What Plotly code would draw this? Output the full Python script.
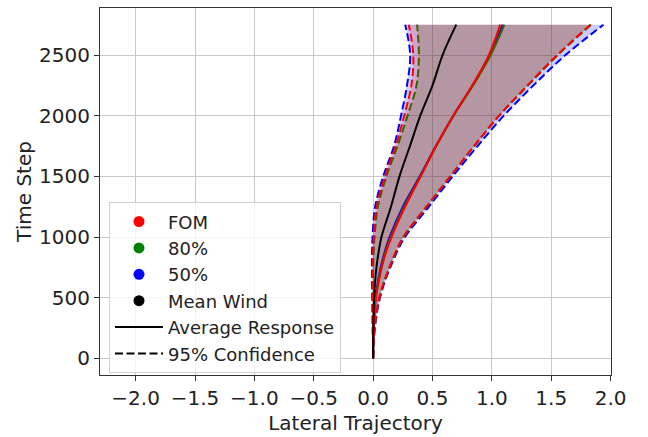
import plotly.graph_objects as go

# Time steps at which the lateral trajectory statistics are tabulated
time_step = [0, 125, 250, 375, 500, 625, 750, 875, 1000, 1250, 1500, 1750, 2000, 2250, 2500, 2750]

# Mean wind (deterministic) response
mean_wind = [0, 0.000, 0.002, 0.004, 0.008, 0.016, 0.028, 0.046, 0.070, 0.150, 0.222, 0.310, 0.397, 0.500, 0.585, 0.700]

# Average responses
fom_mean = [0, 0.001, 0.004, 0.011, 0.024, 0.045, 0.073, 0.108, 0.155, 0.270, 0.400, 0.530, 0.675, 0.835, 0.975, 1.070]
p80_mean = [0, 0.001, 0.004, 0.011, 0.023, 0.043, 0.070, 0.104, 0.150, 0.265, 0.400, 0.532, 0.678, 0.842, 0.990, 1.105]
p50_mean = [0, 0.001, 0.003, 0.009, 0.020, 0.038, 0.063, 0.096, 0.138, 0.250, 0.392, 0.528, 0.674, 0.838, 0.982, 1.090]

# 95% confidence bounds (lower / upper)
fom_lo = [0, -0.001, -0.003, -0.004, -0.004, -0.004, -0.003, 0.000, 0.006, 0.030, 0.100, 0.190, 0.262, 0.322, 0.338, 0.300]
p80_lo = [0, -0.001, -0.002, -0.003, -0.003, -0.002, 0.000, 0.004, 0.012, 0.040, 0.112, 0.205, 0.290, 0.365, 0.385, 0.370]
p50_lo = [0, -0.001, -0.003, -0.005, -0.007, -0.009, -0.010, -0.009, -0.005, 0.017, 0.085, 0.176, 0.235, 0.285, 0.312, 0.270]

fom_hi = [0, 0.003, 0.012, 0.028, 0.052, 0.090, 0.138, 0.190, 0.255, 0.450, 0.650, 0.850, 1.060, 1.300, 1.550, 1.830]
p80_hi = [0, 0.003, 0.012, 0.028, 0.052, 0.090, 0.138, 0.190, 0.255, 0.450, 0.650, 0.852, 1.062, 1.305, 1.555, 1.835]
p50_hi = [0, 0.004, 0.015, 0.032, 0.058, 0.096, 0.145, 0.200, 0.268, 0.470, 0.670, 0.880, 1.100, 1.350, 1.620, 1.940]

x_ticks = [-2.0, -1.5, -1.0, -0.5, 0.0, 0.5, 1.0, 1.5, 2.0]
y_ticks = [0, 500, 1000, 1500, 2000, 2500]

FONT = "DejaVu Sans"
DASH = "8px,3.5px"

series = [
    ("50%", "#0000ff", "rgba(0,0,255,0.2)", p50_lo, p50_hi, p50_mean),
    ("80%", "#008000", "rgba(0,128,0,0.2)", p80_lo, p80_hi, p80_mean),
    ("FOM", "#ff0000", "rgba(255,0,0,0.2)", fom_lo, fom_hi, fom_mean),
]

fig = go.Figure()

for name, color, fill, lo, hi, avg in series:
    # shaded confidence band
    fig.add_trace(go.Scatter(x=lo, y=time_step, mode="lines", line=dict(width=0, shape="spline"),
                             showlegend=False, hoverinfo="skip"))
    fig.add_trace(go.Scatter(x=hi, y=time_step, mode="lines", line=dict(width=0, shape="spline"),
                             fill="tonextx", fillcolor=fill, showlegend=False, hoverinfo="skip"))
    # average response
    fig.add_trace(go.Scatter(x=avg, y=time_step, mode="lines",
                             line=dict(color=color, width=2, shape="spline"), showlegend=False))
    # confidence bounds
    for bound in (lo, hi):
        fig.add_trace(go.Scatter(x=bound, y=time_step, mode="lines",
                                 line=dict(color=color, width=2, dash=DASH, shape="spline"),
                                 showlegend=False))

fig.add_trace(go.Scatter(x=mean_wind, y=time_step, mode="lines",
                         line=dict(color="black", width=2, shape="spline"), showlegend=False))

# legend entries
for name, color in [("FOM", "#ff0000"), ("80%", "#008000"), ("50%", "#0000ff"), ("Mean Wind", "black")]:
    fig.add_trace(go.Scatter(x=[None], y=[None], mode="markers", name=name,
                             marker=dict(color=color, size=11)))
fig.add_trace(go.Scatter(x=[None], y=[None], mode="lines", name="Average Response",
                         line=dict(color="black", width=2)))
fig.add_trace(go.Scatter(x=[None], y=[None], mode="lines", name="95% Confidence",
                         line=dict(color="black", width=2, dash=DASH)))

axis_common = dict(
    showgrid=True, gridcolor="#c8c8c8", gridwidth=1, zeroline=False,
    showline=True, mirror=True, linecolor="#333333", linewidth=1,
    ticks="outside", ticklen=5, tickwidth=1, tickcolor="#333333",
    tickfont=dict(family=FONT, size=20, color="#222222"),
)

fig.update_layout(
    width=648, height=437,
    margin=dict(l=100, r=37, t=7, b=56),
    paper_bgcolor="white", plot_bgcolor="white",
    font=dict(family=FONT, color="#222222"),
    xaxis=dict(range=[-2.3, 2.003], tickvals=x_ticks, tickformat=".1f",
               title=dict(text="Lateral Trajectory", font=dict(family=FONT, size=20), standoff=6),
               **axis_common),
    yaxis=dict(range=[-137.5, 2887.5], tickvals=y_ticks, tickformat="d",
               title=dict(text="Time Step", font=dict(family=FONT, size=20), standoff=2),
               **axis_common),
    legend=dict(x=0.0176, y=0.4706, xanchor="left", yanchor="top", traceorder="normal",
                bgcolor="rgba(255,255,255,0.8)", bordercolor="#d0d0d0", borderwidth=1,
                font=dict(family=FONT, size=18, color="#222222"), itemwidth=48),
)

fig.write_html("out.html")
